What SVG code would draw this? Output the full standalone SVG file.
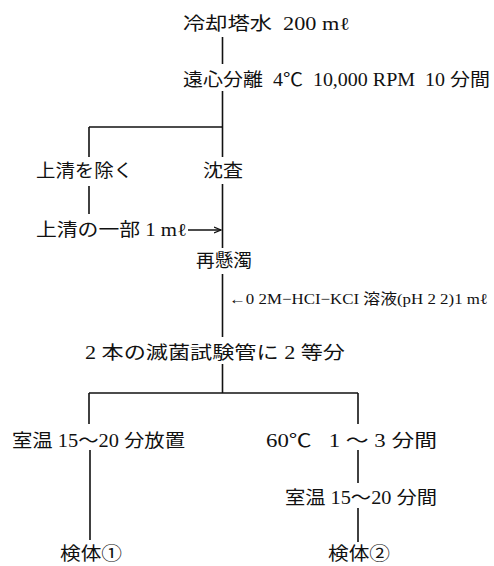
<svg xmlns="http://www.w3.org/2000/svg" width="494" height="566" viewBox="0 0 494 566" xml:space="preserve">
<defs>
<style>
.t{font-family:"Liberation Serif","Noto Sans CJK JP",serif;font-size:18px;fill:#111;white-space:pre;}
.s{font-family:"Liberation Serif","Noto Sans CJK JP",serif;font-size:15px;fill:#111;white-space:pre;}
.c{stroke:#111;stroke-width:1.6;fill:none;}
</style>
<marker id="ah" markerWidth="8" markerHeight="8" refX="7" refY="4" orient="auto" markerUnits="userSpaceOnUse">
<path d="M0,1 L7,4 L0,7" fill="none" stroke="#111" stroke-width="1.2"/>
</marker>
</defs>
<rect width="494" height="566" fill="#fff"/>
<g id="connectors" class="c">
<line x1="222.5" y1="37" x2="222.5" y2="64"/>
<line x1="222.5" y1="91" x2="222.5" y2="157"/>
<line x1="89" y1="127" x2="222.5" y2="127"/>
<line x1="89" y1="127" x2="89" y2="157"/>
<line x1="89" y1="186" x2="89" y2="214"/>
<line x1="222.5" y1="184" x2="222.5" y2="248"/>
<line x1="188" y1="230" x2="221" y2="230" marker-end="url(#ah)"/>
<line x1="222.5" y1="274" x2="222.5" y2="337"/>
<line x1="222.5" y1="364" x2="222.5" y2="393"/>
<line x1="89" y1="393" x2="358" y2="393"/>
<line x1="89" y1="393" x2="89" y2="424"/>
<line x1="358" y1="393" x2="358" y2="424"/>
<line x1="90" y1="450" x2="90" y2="540"/>
<line x1="358" y1="450" x2="358" y2="483"/>
<line x1="358" y1="508" x2="358" y2="542"/>
</g>
<g id="n1"><text class="t" x="183" y="30" textLength="167" lengthAdjust="spacingAndGlyphs">冷却塔水  200 mℓ</text></g>
<g id="n2"><text class="t" x="183" y="86" textLength="307" lengthAdjust="spacingAndGlyphs">遠心分離  4℃  10,000 RPM  10 分間</text></g>
<g id="n3"><text class="t" x="36" y="177" textLength="97" lengthAdjust="spacingAndGlyphs">上清を除く</text></g>
<g id="n4"><text class="t" x="203" y="177" textLength="40" lengthAdjust="spacingAndGlyphs">沈査</text></g>
<g id="n5"><text class="t" x="36" y="236" textLength="151" lengthAdjust="spacingAndGlyphs">上清の一部 1 mℓ</text></g>
<g id="n6"><text class="t" x="196" y="267" textLength="56" lengthAdjust="spacingAndGlyphs">再懸濁</text></g>
<g id="n7"><text class="s" x="229" y="304" textLength="259" lengthAdjust="spacingAndGlyphs">←0 2M−HCI−KCI 溶液(pH 2 2)1 mℓ</text></g>
<g id="n8"><text class="t" x="85" y="359" textLength="260" lengthAdjust="spacingAndGlyphs">2 本の滅菌試験管に 2 等分</text></g>
<g id="n9"><text class="t" x="12" y="447" textLength="173" lengthAdjust="spacingAndGlyphs">室温 15〜20 分放置</text></g>
<g id="n10"><text class="t" x="266" y="447" textLength="171" lengthAdjust="spacingAndGlyphs">60℃   1 〜 3 分間</text></g>
<g id="n11"><text class="t" x="285" y="504" textLength="152" lengthAdjust="spacingAndGlyphs">室温 15〜20 分間</text></g>
<g id="n12"><text class="t" x="60" y="560" textLength="62" lengthAdjust="spacingAndGlyphs">検体①</text></g>
<g id="n13"><text class="t" x="328" y="560" textLength="62" lengthAdjust="spacingAndGlyphs">検体②</text></g>
</svg>
